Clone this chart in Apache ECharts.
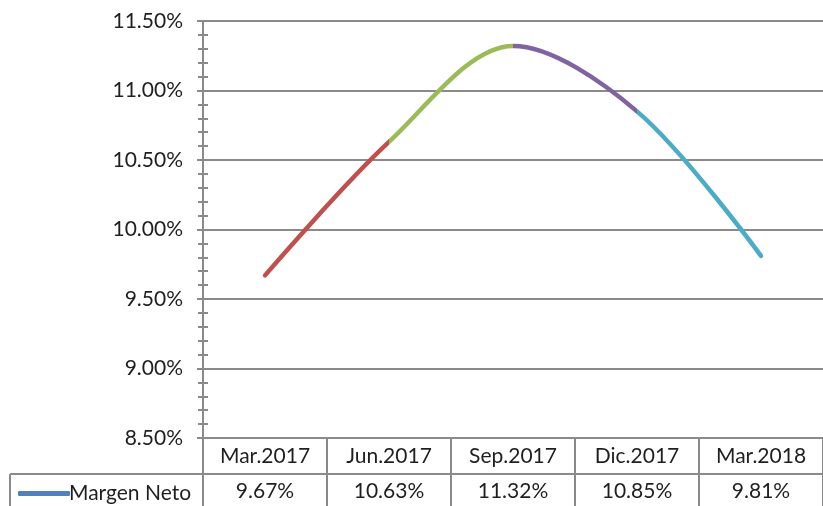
<!DOCTYPE html>
<html>
<head>
<meta charset="utf-8">
<script src="https://cdn.jsdelivr.net/npm/echarts@6/dist/echarts.min.js"></script>
<style>
  html, body { margin: 0; padding: 0; background: #fff; }
  #chart { width: 823px; height: 506px; }
</style>
</head>
<body>
<div id="chart"></div>
<script>
// Quarterly net margin (%)
const periods = ['Mar.2017', 'Jun.2017', 'Sep.2017', 'Dic.2017', 'Mar.2018'];
const margenNeto = [9.67, 10.63, 11.32, 10.85, 9.81];
const seriesName = 'Margen Neto';
const segmentColors = ['#C0504D', '#9BBB59', '#8064A2', '#4BACC6'];

const FONT = 'Lato';
const TEXT = '#1f1f1f';
const GRID = '#8a8a8a';
const pct = v => v.toFixed(2) + '%';

const chart = echarts.init(document.getElementById('chart'), null, { renderer: 'canvas' });

chart.setOption({
  animation: false,
  backgroundColor: '#fff',
  textStyle: { fontFamily: FONT },
  grid: { left: 203, top: 21, width: 634, height: 417, containLabel: false },
  legend: {
    left: 13, top: 478,
    icon: 'roundRect', itemWidth: 52, itemHeight: 5, itemGap: 0,
    textStyle: { fontFamily: FONT, fontSize: 21, color: TEXT, padding: [0, 0, 0, -6] },
    data: [seriesName]
  },
  visualMap: {
    type: 'piecewise', show: false, dimension: 0, seriesIndex: 0,
    pieces: [
      { lte: 1, color: segmentColors[0] },
      { gt: 1, lte: 2, color: segmentColors[1] },
      { gt: 2, lte: 3, color: segmentColors[2] },
      { gt: 3, color: segmentColors[3] }
    ]
  },
  xAxis: [
    {
      // header row of the data table
      type: 'category', data: periods, position: 'bottom', boundaryGap: true,
      axisLine: { show: true, lineStyle: { color: GRID, width: 2 } },
      axisTick: { show: true, interval: 0, alignWithLabel: false, length: 70, lineStyle: { color: GRID, width: 2 } },
      axisLabel: { interval: 0, margin: 8, fontSize: 21, color: TEXT, fontFamily: FONT },
      splitLine: { show: false }
    },
    {
      // value row of the data table
      type: 'category', data: periods, position: 'bottom', offset: 36, boundaryGap: true,
      axisLine: { show: true, lineStyle: { color: GRID, width: 2 } },
      axisTick: { show: false },
      axisLabel: { interval: 0, margin: 7, fontSize: 21, color: TEXT, fontFamily: FONT,
        formatter: (v, i) => pct(margenNeto[i]) },
      splitLine: { show: false }
    }
  ],
  yAxis: [
    {
      type: 'value', min: 8.5, max: 11.5, interval: 0.5, position: 'left',
      axisLine: { show: true, lineStyle: { color: GRID, width: 2 } },
      axisTick: { show: true, length: 6, lineStyle: { color: GRID, width: 2 } },
      minorTick: { show: true, splitNumber: 5, length: 5, lineStyle: { color: GRID, width: 2 } },
      axisLabel: { margin: 20, fontSize: 21, color: TEXT, fontFamily: FONT, formatter: v => pct(v) },
      splitLine: { show: true, lineStyle: { color: GRID, width: 2 } }
    },
    {
      // inner half of the minor ticks
      type: 'value', min: 8.5, max: 11.5, interval: 0.5, position: 'left',
      axisLine: { show: false },
      axisTick: { show: false, inside: true },
      minorTick: { show: true, splitNumber: 5, length: 5, lineStyle: { color: GRID, width: 2 } },
      axisLabel: { show: false },
      splitLine: { show: false }
    }
  ],
  series: [{
    name: seriesName,
    type: 'line',
    data: margenNeto,
    smooth: 0.33,
    smoothConstraint: false,
    symbol: 'none',
    itemStyle: { color: '#4F81BD' },
    lineStyle: { width: 4.5, cap: 'round' }
  }],
  graphic: [
    { type: 'line', shape: { x1: 10, y1: 474, x2: 203, y2: 474 }, style: { stroke: GRID, lineWidth: 2 } },
    { type: 'line', shape: { x1: 10, y1: 474, x2: 10, y2: 510 }, style: { stroke: GRID, lineWidth: 2 } }
  ]
});
</script>
</body>
</html>
